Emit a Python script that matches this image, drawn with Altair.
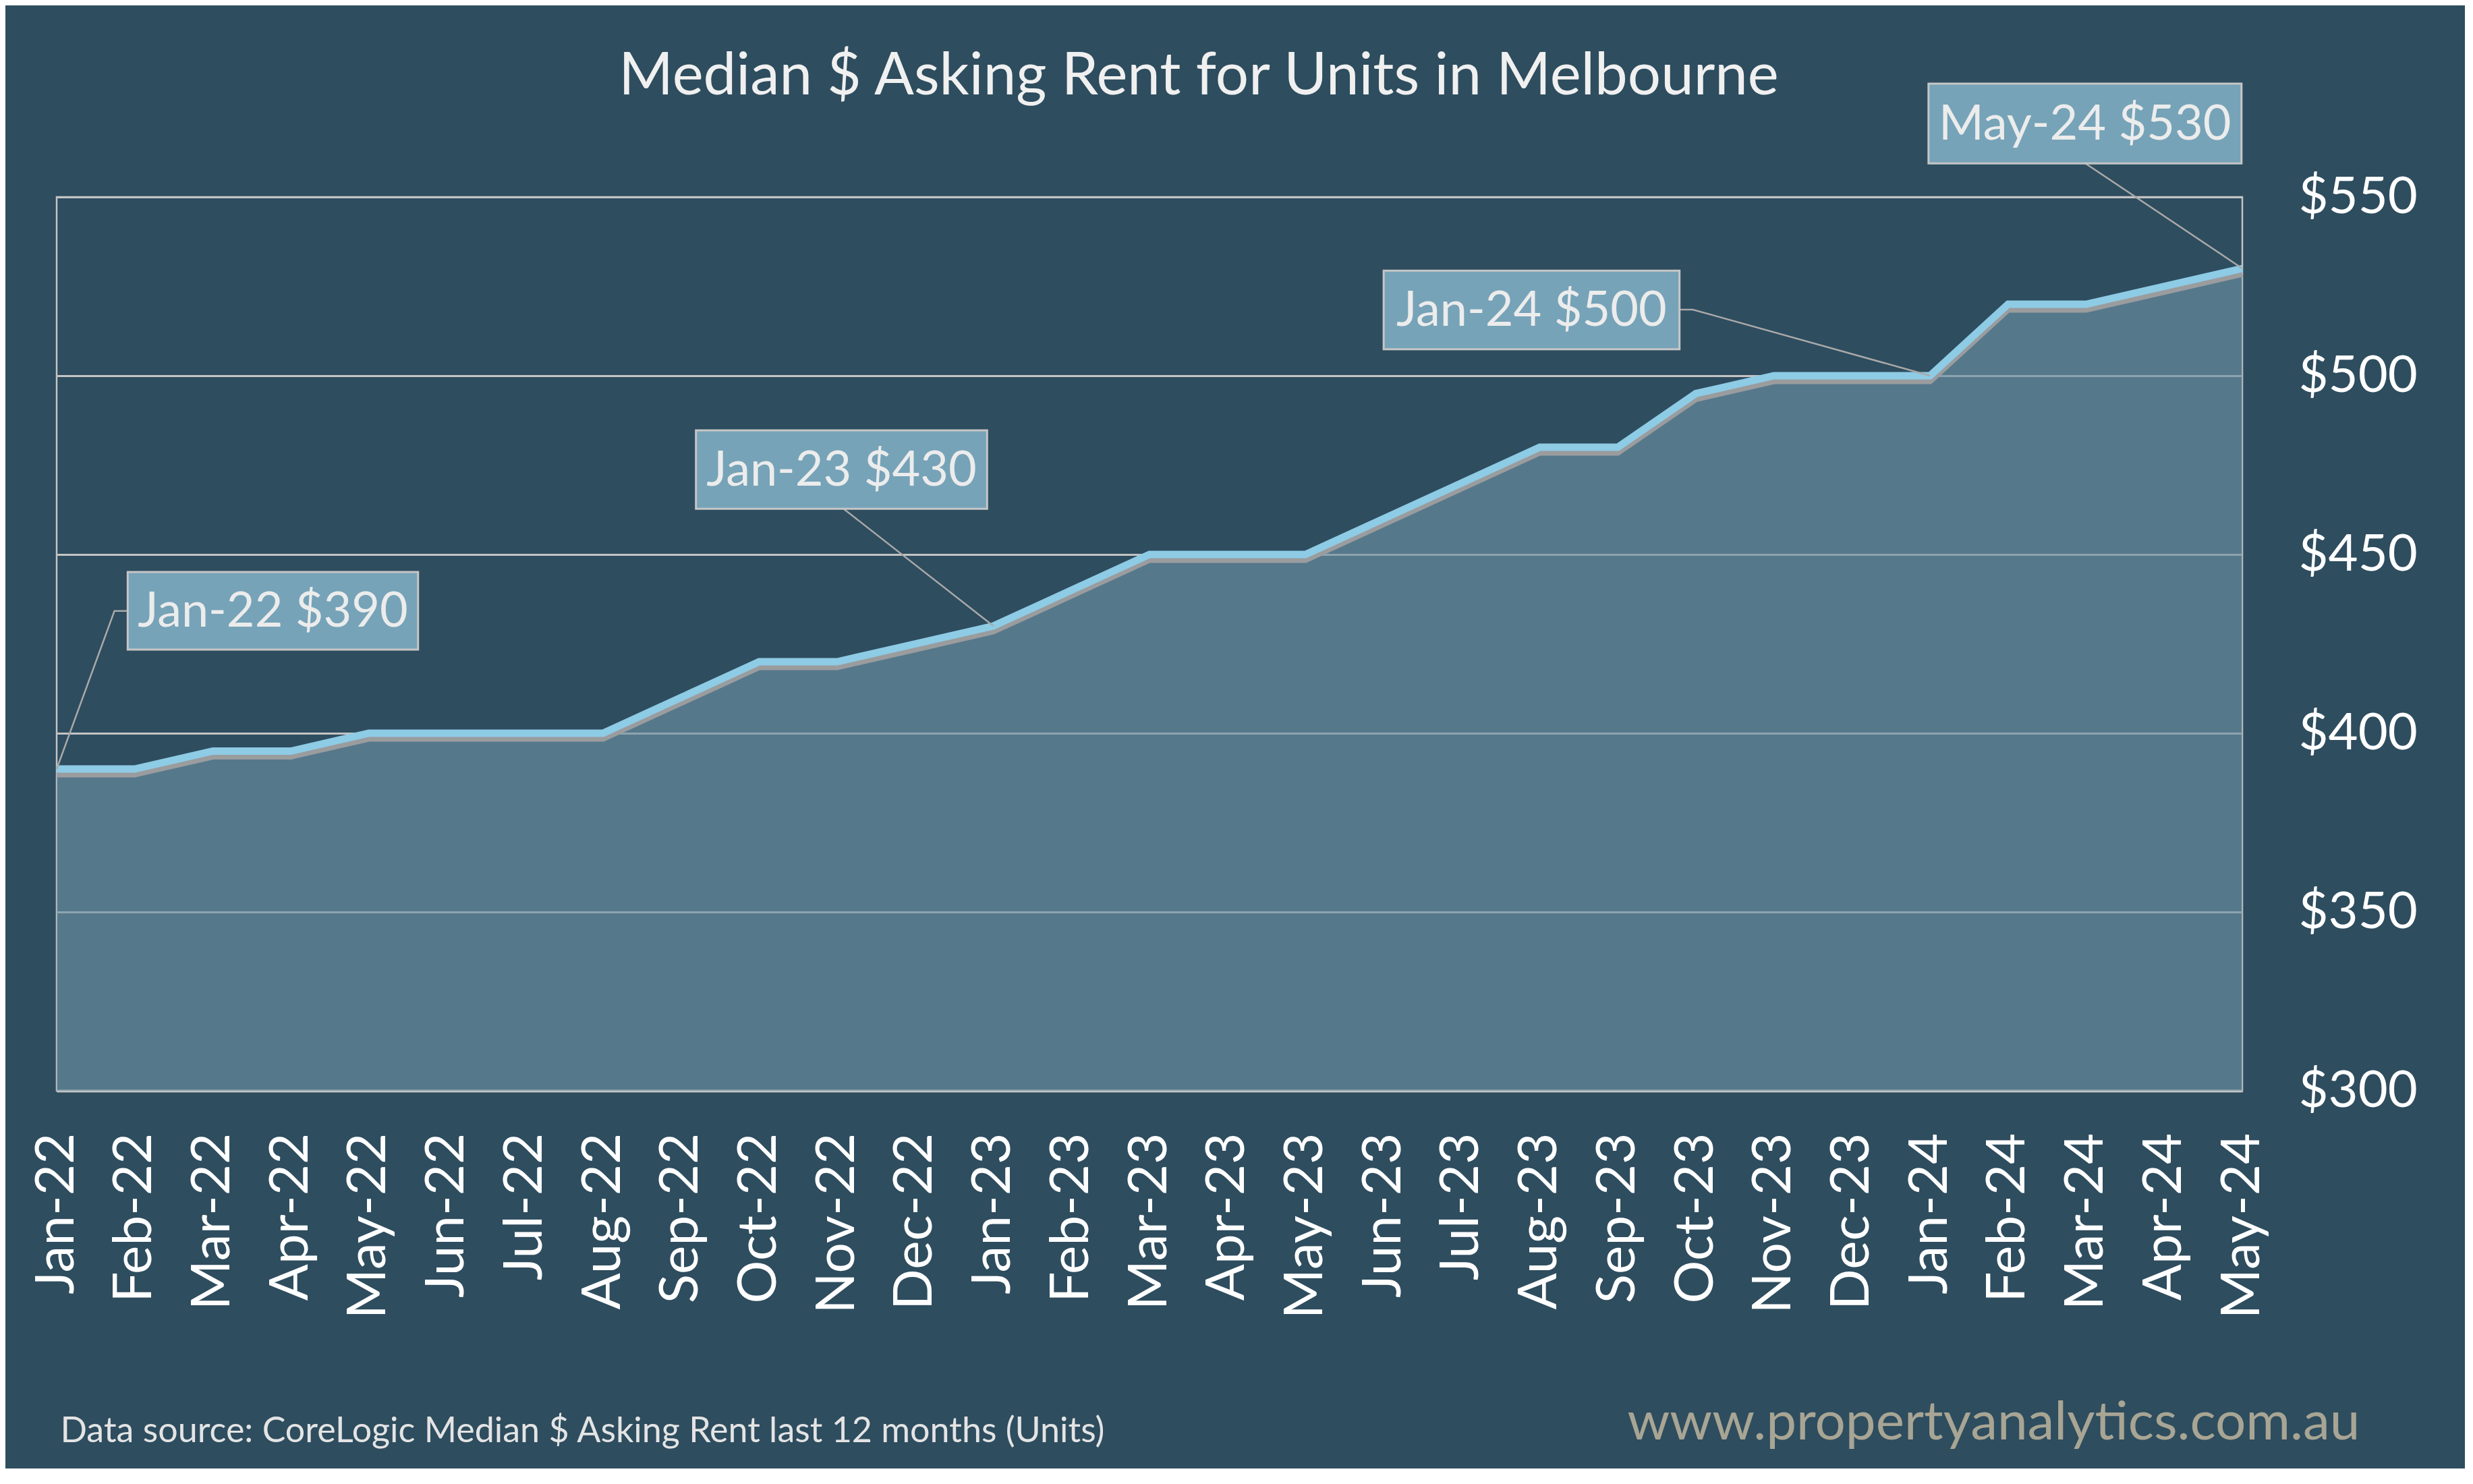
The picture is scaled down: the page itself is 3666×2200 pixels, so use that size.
import altair as alt
import pandas as pd

# ---- data ----
months = ["Jan-22", "Feb-22", "Mar-22", "Apr-22", "May-22", "Jun-22", "Jul-22", "Aug-22",
          "Sep-22", "Oct-22", "Nov-22", "Dec-22", "Jan-23", "Feb-23", "Mar-23", "Apr-23",
          "May-23", "Jun-23", "Jul-23", "Aug-23", "Sep-23", "Oct-23", "Nov-23", "Dec-23",
          "Jan-24", "Feb-24", "Mar-24", "Apr-24", "May-24"]
rent = [390, 390, 395, 395, 400, 400, 400, 400, 410, 420, 420, 425, 430, 440, 450, 450,
        450, 460, 470, 480, 480, 495, 500, 500, 500, 520, 520, 525, 530]
y_ticks = [300, 350, 400, 450, 500, 550]

# callouts: which month is labelled
callout_months = ["Jan-22", "Jan-23", "Jan-24", "May-24"]

title_text = "Median $ Asking Rent for Units in Melbourne"
source_text = "Data source: CoreLogic Median $ Asking Rent last 12 months (Units)"
site_text = "www.propertyanalytics.com.au"

# ---- tables ----
df = pd.DataFrame({"i": list(range(len(months))), "month": months, "rent": rent})

# callout box placement (in data units: month index / $ value)
box_x1 = [0.91, 8.19, 17.0, 23.98]
box_x2 = [4.63, 11.92, 20.79, 27.99]
box_y1 = [423.4, 462.8, 507.4, 559.4]
box_y2 = [445.1, 484.7, 529.4, 581.7]
boxes = []
for k, m in enumerate(callout_months):
    idx = months.index(m)
    boxes.append({
        "id": k, "label": f"{m} ${rent[idx]}",
        "x1": box_x1[k], "x2": box_x2[k], "y1": box_y1[k], "y2": box_y2[k],
        "xc": (box_x1[k] + box_x2[k]) / 2, "yc": (box_y1[k] + box_y2[k]) / 2,
    })
boxes_df = pd.DataFrame(boxes)

# leader line paths: from box edge to the labelled point
leader_paths = [
    [(box_x1[0], 434.2), (0.74, 434.2)],
    [(10.08, box_y1[1])],
    [(box_x2[2], 518.5), (20.96, 518.5)],
    [(25.99, box_y1[3])],
]
leaders = []
for k, m in enumerate(callout_months):
    idx = months.index(m)
    pts = leader_paths[k] + [(idx, rent[idx])]
    for o, (xx, yy) in enumerate(pts):
        leaders.append({"id": k, "o": o, "x": xx, "y": yy})
leaders_df = pd.DataFrame(leaders)

FONT = "Lato"
n = len(months) - 1
x_scale = alt.Scale(domain=[0, n], nice=False, zero=False)
y_scale = alt.Scale(domain=[300, 550], nice=False, zero=False)

label_js = "[" + ",".join(f"'{m}'" for m in months) + "][datum.value]"

x_axis = alt.Axis(
    values=list(range(len(months))), labelExpr=label_js, labelAngle=270,
    labelAlign="right", labelBaseline="middle", labelPadding=62, labelFontSize=80,
    labelColor="#ffffff", labelFont=FONT, labelOverlap=False, labelFlush=False,
    labelLimit=1000,
    ticks=False, grid=False, domain=True, domainColor="#c4c4c4", domainWidth=4,
    title=source_text, titleFont=FONT, titleFontSize=52, titleFontWeight="normal",
    titleColor="#e4e4e4", titleAlign="left", titleBaseline="alphabetic",
    titleX=5, titleY=520, titleLimit=3000,
)
y_axis = alt.Axis(
    orient="right", values=y_ticks, labelExpr="'$' + datum.value",
    labelFontSize=76, labelColor="#ffffff", labelFont=FONT, labelPadding=83,
    labelAlign="left", labelBaseline="middle", ticks=False, domain=False,
    grid=True, gridColor="#c4c4c4", gridWidth=3,
    title=site_text, titleFont=FONT, titleFontSize=80, titleFontWeight="normal",
    titleColor="#a8a594", titleAngle=0, titleAlign="left", titleBaseline="alphabetic",
    titleX=-912, titleY=1841, titleLimit=3000,
)

base = alt.Chart(df)

area = base.mark_area(color="#6d92a4", opacity=0.64).encode(
    x=alt.X("i:Q", scale=x_scale, axis=x_axis),
    y=alt.Y("rent:Q", scale=y_scale, axis=y_axis),
    y2=alt.datum(300),
)
shadow = base.mark_line(color="#9a9c9e", strokeWidth=9, yOffset=8, strokeJoin="miter").encode(
    x="i:Q", y="rent:Q")
line = base.mark_line(color="#8ecbe5", strokeWidth=11, strokeJoin="miter").encode(
    x="i:Q", y="rent:Q")

leader = alt.Chart(leaders_df).mark_line(color="#a9a9a9", strokeWidth=2.5).encode(
    x="x:Q", y="y:Q", detail="id:N", order="o:Q")

box = alt.Chart(boxes_df).mark_rect(fill="#76a3b8", stroke="#c6c6c6", strokeWidth=3).encode(
    x="x1:Q", x2="x2:Q", y="y1:Q", y2="y2:Q")
box_text = alt.Chart(boxes_df).mark_text(
    font=FONT, fontSize=72, color="#ececec", align="center", baseline="middle", dy=2
).encode(x="xc:Q", y="yc:Q", text="label:N")

chart = alt.layer(area, shadow, line, leader, box, box_text).properties(
    width=3240, height=1325,
    title=alt.Title(title_text, font=FONT, fontSize=87, fontWeight="normal",
                    color="#f0f0f0", anchor="middle", dx=73, offset=0, dy=105,
                    baseline="alphabetic", limit=3000),
    background="#2e4d5f",
    autosize=alt.AutoSizeParams(type="none"),
    padding={"left": 76, "top": 284, "right": 330, "bottom": 560},
).configure_view(stroke="#c4c4c4", strokeWidth=2.5)

chart.save("out.html", embed_options={"renderer": "svg", "actions": False})
